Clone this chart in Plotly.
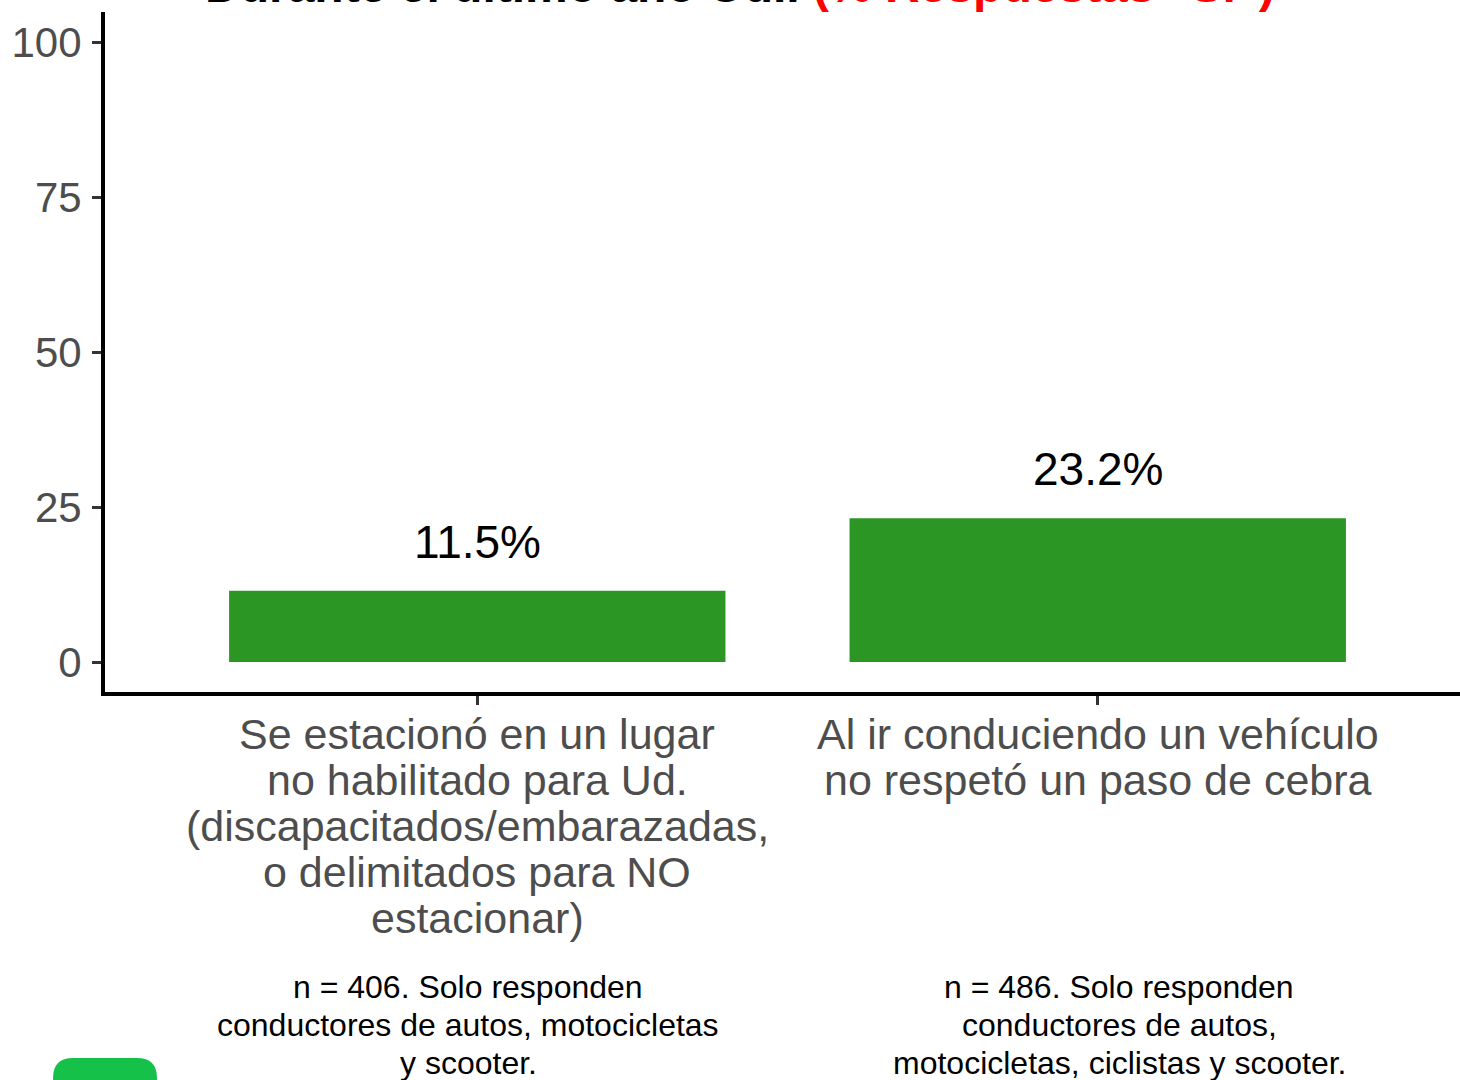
import plotly.graph_objects as go

# Data
categorias = [
    "Se estacionó en un lugar<br>no habilitado para Ud.<br>(discapacitados/embarazadas,<br>o delimitados para NO<br>estacionar)",
    "Al ir conduciendo un vehículo<br>no respetó un paso de cebra",
]
porcentajes = [11.5, 23.2]
etiquetas = ["11.5%", "23.2%"]
notas = [
    "n = 406. Solo responden<br>conductores de autos, motocicletas<br>y scooter.",
    "n = 486. Solo responden<br>conductores de autos,<br>motocicletas, ciclistas y scooter.",
]
y_ticks = [0, 25, 50, 75, 100]

W, H = 1460, 1080
L, R, T, B = 105, 0, 12, 388
FONT = "Liberation Sans, Arial, sans-serif"


def px_x(p):
    # pixel -> paper x
    return (p - L) / (W - L - R)


def px_y(p):
    # pixel -> paper y
    return (H - B - p) / (H - T - B)


def add_lines(fig, text, x, y0, step, size, color, xref="paper"):
    # multi-line text with a tighter line spacing than plotly's default
    for k, line in enumerate(text.split("<br>")):
        fig.add_annotation(xref=xref, yref="paper", x=x, y=px_y(y0 + k * step),
                           text=line, showarrow=False, xanchor="center",
                           yanchor="middle",
                           font=dict(family=FONT, size=size, color=color))


fig = go.Figure()
fig.add_trace(go.Bar(
    x=[1, 2], y=porcentajes, width=0.8,
    marker=dict(color="#2c9624", line=dict(width=0)),
    hoverinfo="skip",
))

# bar value labels
for i, (v, lab) in enumerate(zip(porcentajes, etiquetas)):
    fig.add_annotation(x=i + 1, y=v, text=lab, showarrow=False,
                       yanchor="bottom", yshift=21,
                       font=dict(family=FONT, size=46, color="black"))

# category labels under the axis
for i, cat in enumerate(categorias):
    add_lines(fig, cat, i + 1, 734, 46, 43, "#4d4d4d", xref="x")

# sample notes under each category
for xp, nota in zip([468, 1119], notas):
    add_lines(fig, nota, px_x(xp), 987, 38, 32, "black")

# title (mostly cut off at the top)
fig.add_annotation(xref="paper", yref="paper", x=px_x(740), y=px_y(14),
                   text="<b>Durante el último año Ud.. </b><b><span style='color:red'>(% Respuestas \"Sí\")</span></b>",
                   showarrow=False, xanchor="center", yanchor="bottom",
                   font=dict(family=FONT, size=48, color="black"))

# green rounded tab at bottom left
x0, x1 = px_x(53), px_x(157)
yt, yb = px_y(1058), px_y(1100)
rx, ry = 20 / (W - L - R), 20 / (H - T - B)
fig.add_shape(type="path", xref="paper", yref="paper",
              path=(f"M {x0},{yb} L {x0},{yt - ry} Q {x0},{yt} {x0 + rx},{yt} "
                    f"L {x1 - rx},{yt} Q {x1},{yt} {x1},{yt - ry} L {x1},{yb} Z"),
              fillcolor="#16c14a", line=dict(width=0))

fig.update_xaxes(
    range=[0.4, 1 + (W - 478) / 620], tickvals=[1, 2], ticktext=["", ""],
    showline=True, linewidth=4, linecolor="black",
    ticks="outside", ticklen=9, tickwidth=3, tickcolor="#333333",
    showgrid=False, zeroline=False, fixedrange=True,
)
fig.update_yaxes(
    range=[-30 / 6.2, 650 / 6.2], tickvals=y_ticks,
    showline=True, linewidth=4, linecolor="black",
    ticks="outside", ticklen=9, tickwidth=3, tickcolor="#333333",
    ticklabelstandoff=2,
    tickfont=dict(family=FONT, size=42, color="#4d4d4d"),
    showgrid=False, zeroline=False, fixedrange=True,
)
fig.update_layout(
    width=W, height=H, margin=dict(l=L, r=R, t=T, b=B),
    plot_bgcolor="white", paper_bgcolor="white", showlegend=False,
    font=dict(family=FONT),
)

# drop the page's default body margin so the figure fills the window
fig.write_html("out.html", config={"displayModeBar": False},
               post_script="document.body.style.margin = '0';")
